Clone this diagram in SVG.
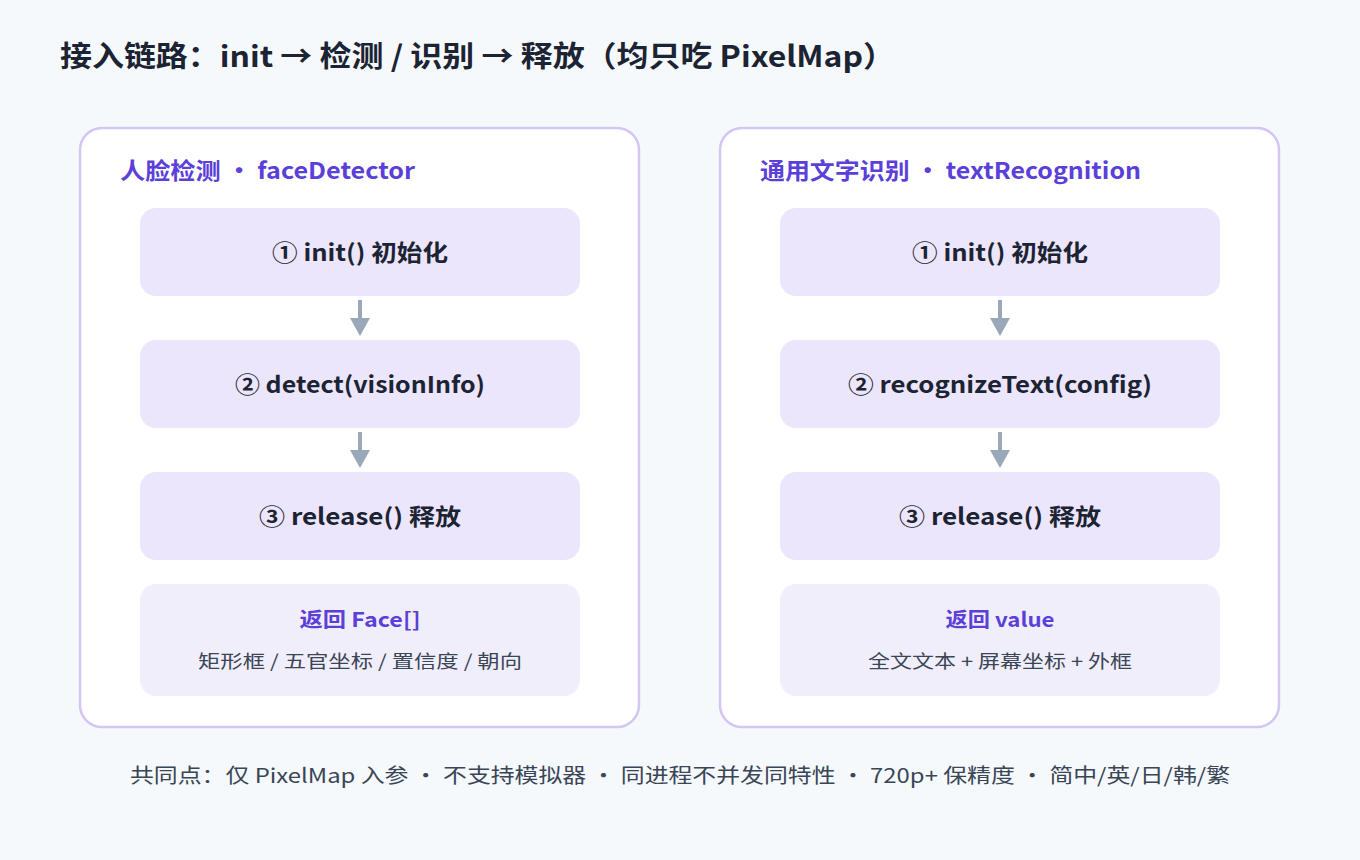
<svg xmlns="http://www.w3.org/2000/svg" width="1360" height="860" viewBox="0 0 1360 860">
<defs>
<style>
text{font-family:"Noto Sans CJK SC","Noto Sans",sans-serif}
.panel{fill:#fff;stroke:#d3c6f3;stroke-width:2.5}
.step{fill:#ece6fc}
.ret{fill:#f1eefb}
.st{font-size:23px;font-weight:700;fill:#1c2433;text-anchor:middle}
.hd{font-size:23px;font-weight:700;fill:#5b3fd9}
.rt{font-size:20px;font-weight:700;fill:#5b3fd9;text-anchor:middle}
.rs{font-size:18px;fill:#3a4556;text-anchor:middle}
.ln{stroke:#9aa7b8;stroke-width:4}
.ar{fill:#9aa7b8}
</style>
</defs>
<rect width="1360" height="860" fill="#f5f9fc"/>
<text x="60" y="67" font-size="29" font-weight="700" fill="#1c2433" textLength="835" lengthAdjust="spacingAndGlyphs">接入链路：init → 检测 / 识别 → 释放（均只吃 PixelMap）</text>
<g id="panel-face">
<rect class="panel" x="80" y="128" width="559" height="599" rx="22"/>
<text class="hd" x="120" y="179" textLength="295" lengthAdjust="spacingAndGlyphs">人脸检测 · faceDetector</text>
</g>
<g id="f1"><rect class="step" x="140" y="208" width="440" height="88" rx="16"/><text class="st" x="360" y="261" textLength="176" lengthAdjust="spacingAndGlyphs">① init() 初始化</text></g>
<g id="f2"><rect class="step" x="140" y="340" width="440" height="88" rx="16"/><text class="st" x="360" y="393" textLength="250" lengthAdjust="spacingAndGlyphs">② detect(visionInfo)</text></g>
<g id="f3"><rect class="step" x="140" y="472" width="440" height="88" rx="16"/><text class="st" x="360" y="525" textLength="202" lengthAdjust="spacingAndGlyphs">③ release() 释放</text></g>
<g id="f4"><rect class="ret" x="140" y="584" width="440" height="112" rx="16"/><text class="rt" x="360" y="627" textLength="121" lengthAdjust="spacingAndGlyphs">返回 Face[]</text><text class="rs" x="360" y="668" textLength="324" lengthAdjust="spacingAndGlyphs">矩形框 / 五官坐标 / 置信度 / 朝向</text></g>
<g id="panel-text">
<rect class="panel" x="720" y="128" width="559" height="599" rx="22"/>
<text class="hd" x="760" y="179" textLength="381" lengthAdjust="spacingAndGlyphs">通用文字识别 · textRecognition</text>
</g>
<g id="t1"><rect class="step" x="780" y="208" width="440" height="88" rx="16"/><text class="st" x="1000" y="261" textLength="176" lengthAdjust="spacingAndGlyphs">① init() 初始化</text></g>
<g id="t2"><rect class="step" x="780" y="340" width="440" height="88" rx="16"/><text class="st" x="1000" y="393" textLength="304" lengthAdjust="spacingAndGlyphs">② recognizeText(config)</text></g>
<g id="t3"><rect class="step" x="780" y="472" width="440" height="88" rx="16"/><text class="st" x="1000" y="525" textLength="202" lengthAdjust="spacingAndGlyphs">③ release() 释放</text></g>
<g id="t4"><rect class="ret" x="780" y="584" width="440" height="112" rx="16"/><text class="rt" x="1000" y="627" textLength="109" lengthAdjust="spacingAndGlyphs">返回 value</text><text class="rs" x="1000" y="668" textLength="264" lengthAdjust="spacingAndGlyphs">全文文本 + 屏幕坐标 + 外框</text></g>
<g id="connectors">
<line class="ln" x1="360" y1="300" x2="360" y2="320"/><path class="ar" d="M350,318 L370,318 L360,336 Z"/>
<line class="ln" x1="360" y1="432" x2="360" y2="452"/><path class="ar" d="M350,450 L370,450 L360,468 Z"/>
<line class="ln" x1="1000" y1="300" x2="1000" y2="320"/><path class="ar" d="M990,318 L1010,318 L1000,336 Z"/>
<line class="ln" x1="1000" y1="432" x2="1000" y2="452"/><path class="ar" d="M990,450 L1010,450 L1000,468 Z"/>
</g>
<text x="680" y="783" font-size="20" fill="#3a4556" text-anchor="middle" textLength="1100" lengthAdjust="spacingAndGlyphs">共同点：仅 PixelMap 入参 · 不支持模拟器 · 同进程不并发同特性 · 720p+ 保精度 · 简中/英/日/韩/繁</text>
</svg>
